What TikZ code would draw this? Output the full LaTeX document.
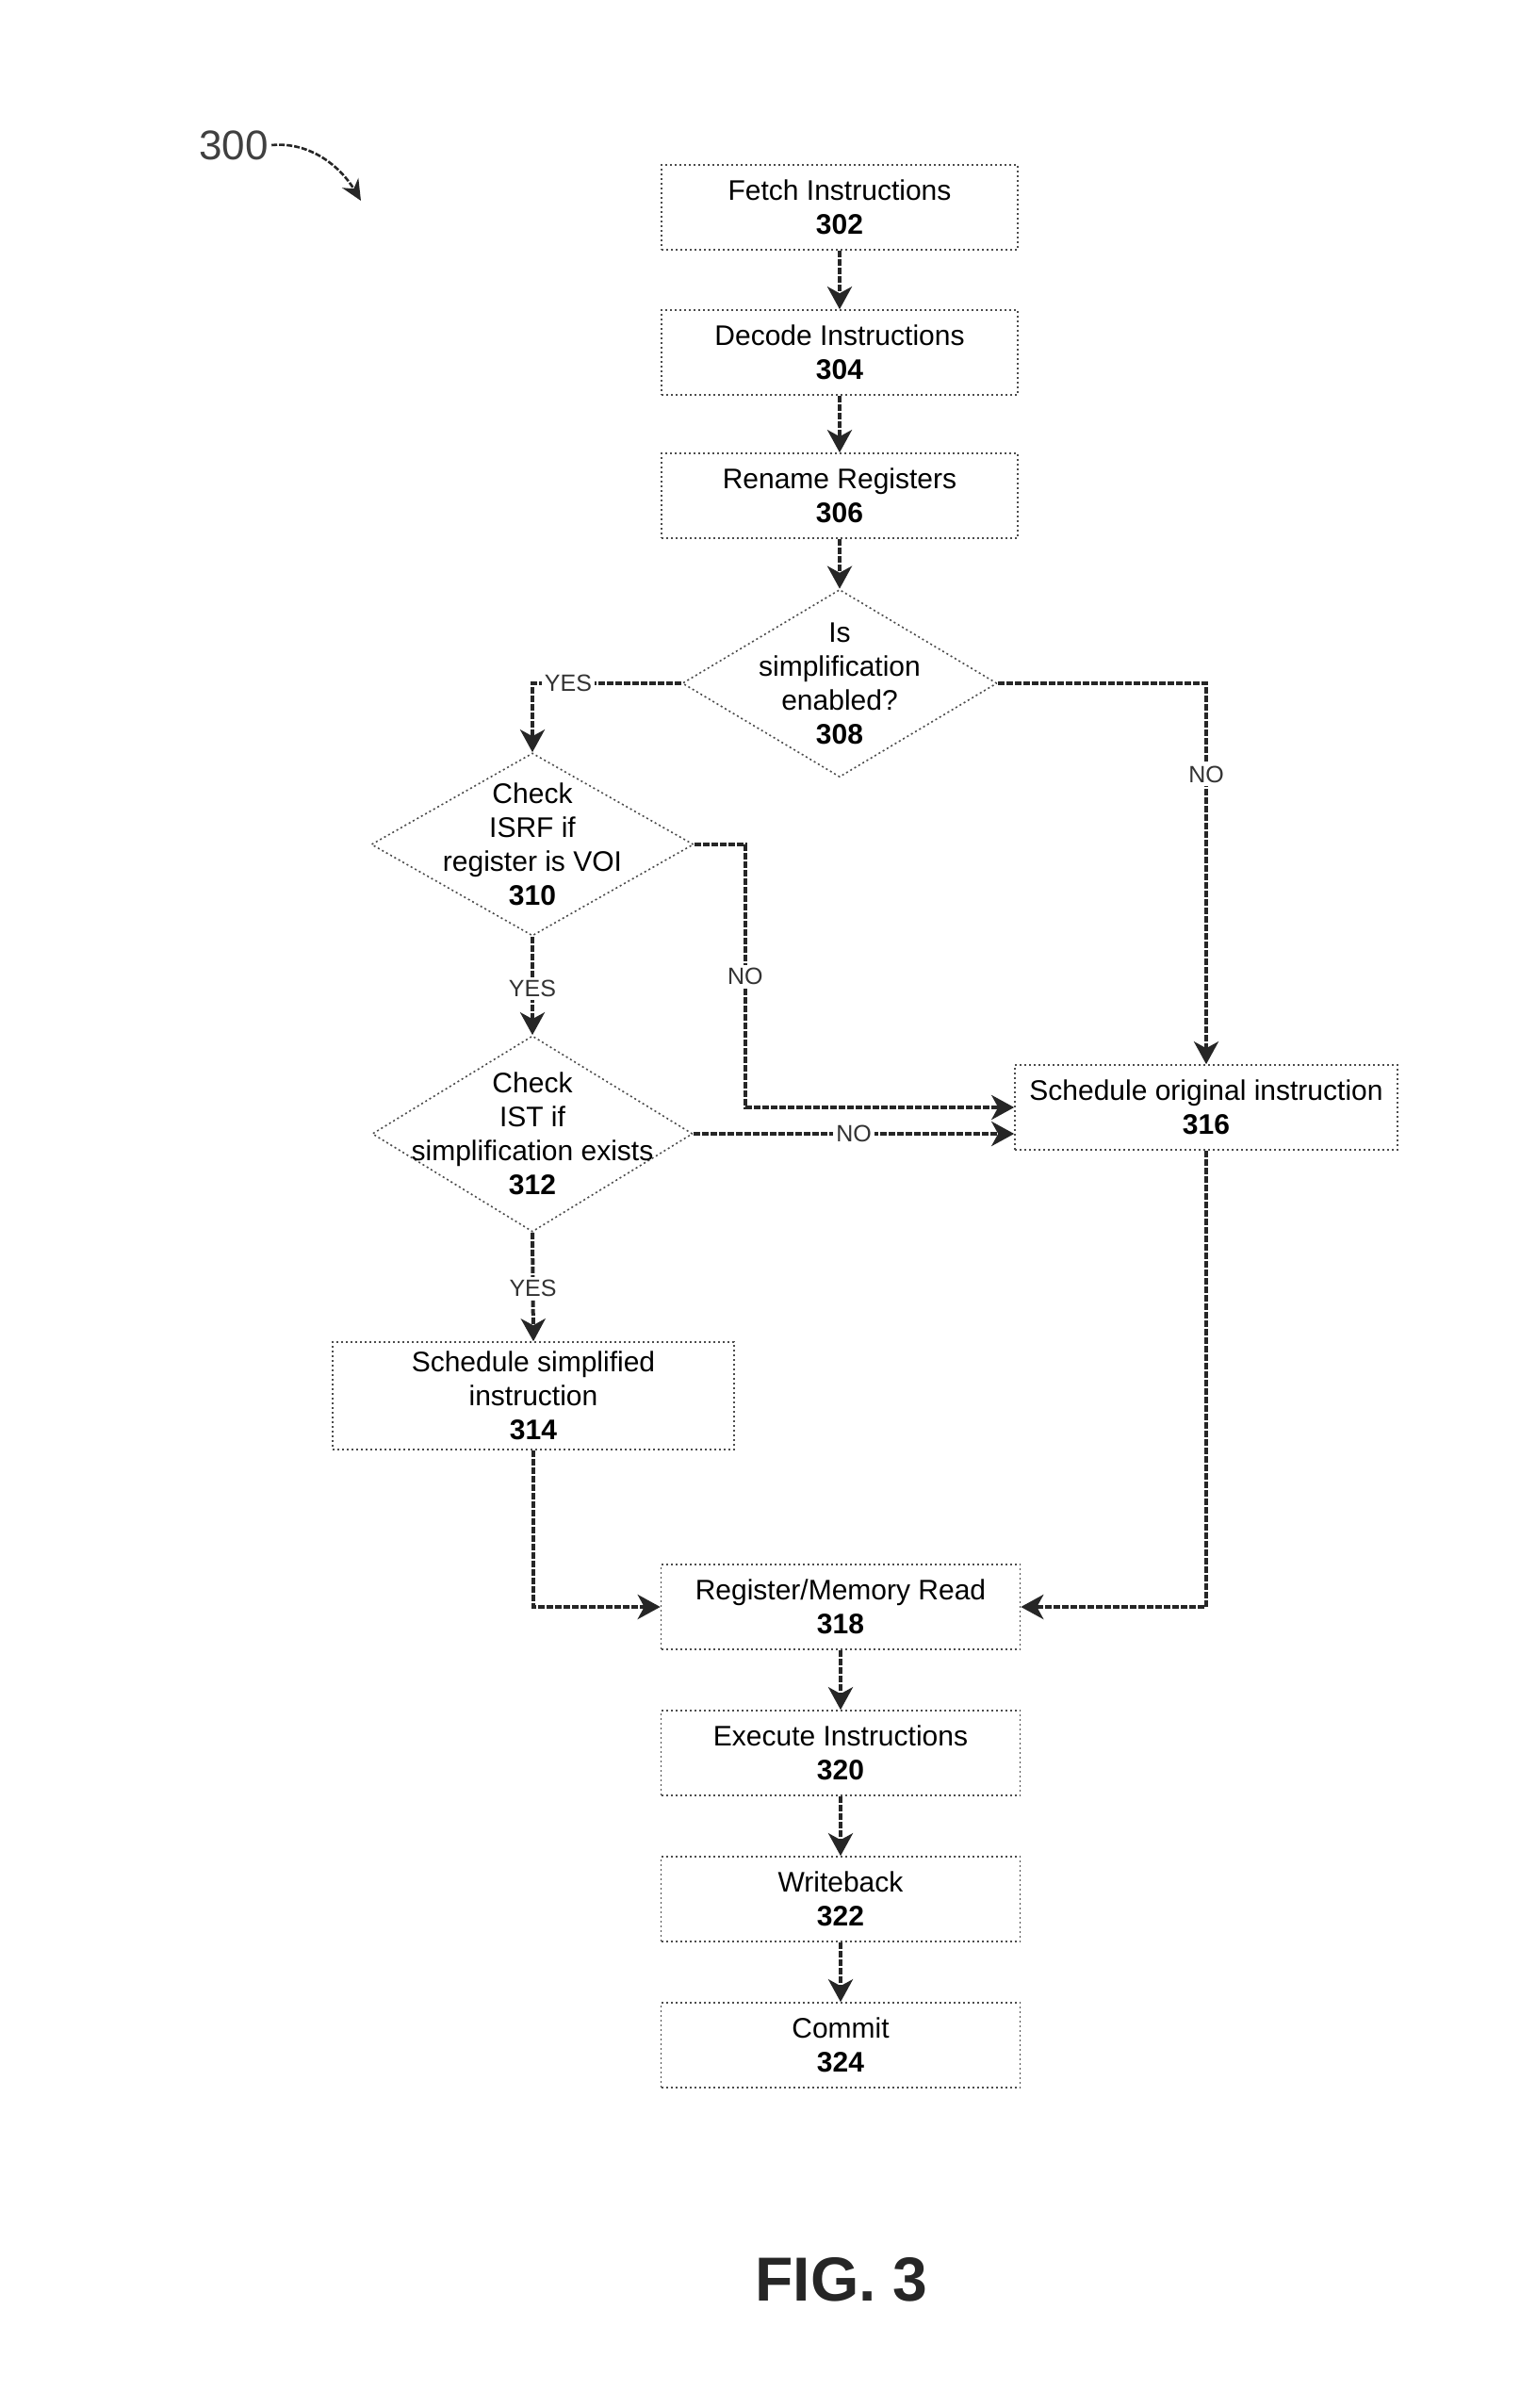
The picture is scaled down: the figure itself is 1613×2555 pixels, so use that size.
\documentclass[tikz,border=0pt]{standalone}
\usepackage{fontspec}
\setmainfont{Liberation Sans}
\usetikzlibrary{shapes.geometric,arrows.meta}
\begin{document}
\begin{tikzpicture}[x=1pt,y=-1pt,
  txt/.style={font=\fontsize{30}{36}\selectfont, align=center},
  stepbox/.style={txt, draw=black!70, dash pattern=on 2pt off 3pt, line width=1.6pt,
    minimum width=378pt, minimum height=90pt, inner sep=2pt},
  decbox/.style={draw=black!70, dash pattern=on 2pt off 3pt, line width=1.6pt,
    diamond, inner sep=0pt},
  flow/.style={draw=black!85, line width=4pt, dash pattern=on 7pt off 2pt,
    -{Stealth[length=24pt,width=26pt,inset=7pt]}},
  lab/.style={fill=white, inner sep=3pt, text=black!80, font=\fontsize{25}{29}\selectfont},
]
\useasboundingbox (0,0) rectangle (1613,2555);

% label 300
\node[font=\fontsize{44}{48}\selectfont, text=black!75] (l300) at (248,154) {300};
\coordinate (a300) at (383,213);
\draw[line width=2.6pt, black!85, dash pattern=on 6pt off 2pt, -{Stealth[length=22pt,width=20pt]}]
  (l300.east) .. controls (330,150) and (362,178) .. (a300);

% boxes
\node[stepbox] (b302) at (891,220) {Fetch Instructions\\\textbf{302}};
\node[stepbox] (b304) at (891,374) {Decode Instructions\\\textbf{304}};
\node[stepbox] (b306) at (891,526) {Rename Registers\\\textbf{306}};

\node[decbox, minimum width=334pt, minimum height=199pt,
  label={[txt]center:Is\\simplification\\enabled?\\\textbf{308}}] (d308) at (891,725) {};
\node[decbox, minimum width=342pt, minimum height=194pt,
  label={[txt]center:Check\\ISRF if\\register is VOI\\\textbf{310}}] (d310) at (565,896) {};
\node[decbox, minimum width=340pt, minimum height=208pt,
  label={[txt]center:Check\\IST if\\simplification exists\\\textbf{312}}] (d312) at (565,1203) {};

\node[stepbox, minimum width=426pt, minimum height=114pt] (b314) at (566,1481)
  {Schedule simplified\\instruction\\\textbf{314}};
\node[stepbox, minimum width=406pt, minimum height=90pt] (b316) at (1280,1175)
  {Schedule original instruction\\\textbf{316}};

\node[stepbox, minimum width=381pt] (b318) at (892,1705) {Register/Memory Read\\\textbf{318}};
\node[stepbox, minimum width=381pt] (b320) at (892,1860) {Execute Instructions\\\textbf{320}};
\node[stepbox, minimum width=381pt] (b322) at (892,2015) {Writeback\\\textbf{322}};
\node[stepbox, minimum width=381pt] (b324) at (892,2170) {Commit\\\textbf{324}};

% connectors
\draw[flow] (b302) -- (b304);
\draw[flow] (b304) -- (b306);
\draw[flow] (b306) -- (d308);
\draw[flow] (d308.west) -| node[lab, pos=0.38] {YES} (d310.north);
\draw[flow] (d308.east) -| node[lab, pos=0.62] {NO} (b316.north);
\draw[flow] (d310.east) -- ++(54,0) |- node[lab, pos=0.25] {NO} (b316.west);
\draw[flow] (d312.east) -- node[lab, pos=0.5] {NO} (d312.east -| b316.west);
\draw[flow] (d310.south) -- node[lab, pos=0.53] {YES} (d312.north);
\draw[flow] (d312.south) -- node[lab, pos=0.51] {YES} (b314.north);
\draw[flow] (b314.south) |- (b318.west);
\draw[flow] (b316.south) |- (b318.east);
\draw[flow] (b318) -- (b320);
\draw[flow] (b320) -- (b322);
\draw[flow] (b322) -- (b324);

\node[font=\bfseries\fontsize{66}{70}\selectfont, text=black!85] (fig) at (893,2419) {FIG. 3};
\end{tikzpicture}
\end{document}
